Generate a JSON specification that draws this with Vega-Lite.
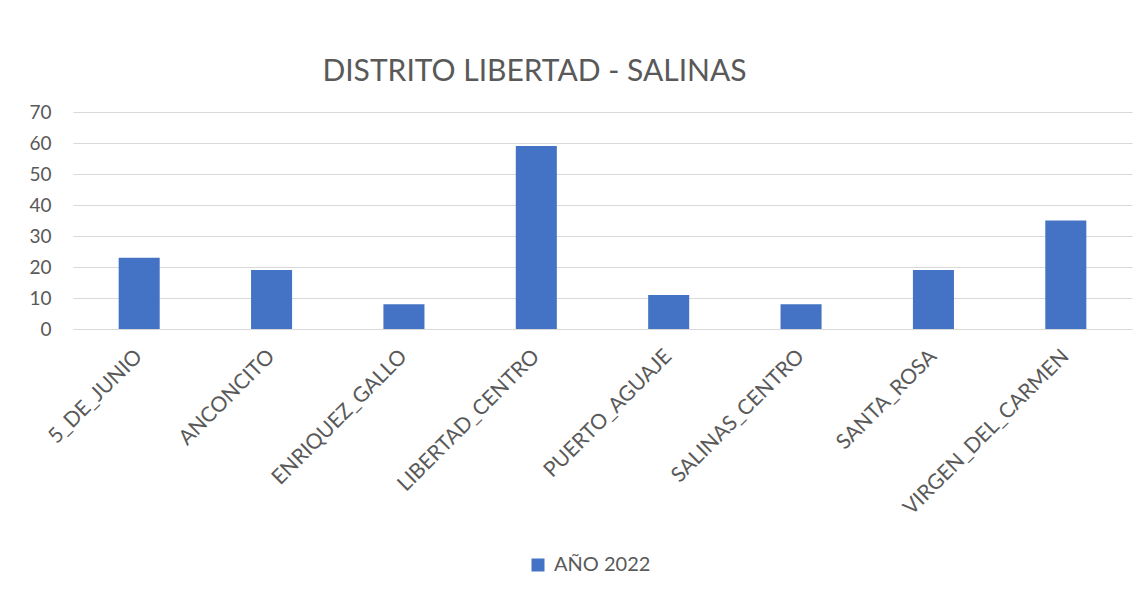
{
  "$schema": "https://vega.github.io/schema/vega-lite/v6.json",
  "width": 1059,
  "height": 217,
  "autosize": {"type": "none"},
  "padding": {"left": 73, "top": 112, "right": 14, "bottom": 266},
  "background": "white",
  "title": {
    "text": "DISTRITO LIBERTAD - SALINAS",
    "anchor": "middle",
    "dx": -68,
    "offset": 16,
    "font": "Lato",
    "fontSize": 30,
    "fontWeight": "normal",
    "color": "#595959"
  },
  "data": {
    "values": [
      {"zona": "5_DE_JUNIO", "valor": 23, "serie": "AÑO 2022"},
      {"zona": "ANCONCITO", "valor": 19, "serie": "AÑO 2022"},
      {"zona": "ENRIQUEZ_GALLO", "valor": 8, "serie": "AÑO 2022"},
      {"zona": "LIBERTAD_CENTRO", "valor": 59, "serie": "AÑO 2022"},
      {"zona": "PUERTO_AGUAJE", "valor": 11, "serie": "AÑO 2022"},
      {"zona": "SALINAS_CENTRO", "valor": 8, "serie": "AÑO 2022"},
      {"zona": "SANTA_ROSA", "valor": 19, "serie": "AÑO 2022"},
      {"zona": "VIRGEN_DEL_CARMEN", "valor": 35, "serie": "AÑO 2022"}
    ]
  },
  "mark": {"type": "bar"},
  "encoding": {
    "x": {
      "field": "zona",
      "type": "nominal",
      "sort": null,
      "title": null,
      "scale": {"paddingInner": 0.69, "paddingOuter": 0.345},
      "axis": {
        "labelAngle": -45,
        "labelAlign": "right",
        "labelBaseline": "middle",
        "labelFont": "Lato",
        "labelFontSize": 21,
        "labelColor": "#595959",
        "labelPadding": 24,
        "labelLimit": 400,
        "ticks": false,
        "domain": true,
        "domainColor": "#D9D9D9",
        "domainWidth": 1,
        "grid": false
      }
    },
    "y": {
      "field": "valor",
      "type": "quantitative",
      "title": null,
      "scale": {"domain": [0, 70]},
      "axis": {
        "values": [0, 10, 20, 30, 40, 50, 60, 70],
        "labelFont": "Lato",
        "labelFontSize": 19,
        "labelColor": "#595959",
        "labelPadding": 22,
        "ticks": false,
        "domain": false,
        "grid": true,
        "gridColor": "#D9D9D9",
        "gridWidth": 1
      }
    },
    "color": {
      "field": "serie",
      "type": "nominal",
      "scale": {"range": ["#4472C4"]},
      "legend": {
        "title": null,
        "orient": "none",
        "legendX": 455,
        "legendY": 443,
        "symbolType": "square",
        "symbolSize": 169,
        "symbolStrokeWidth": 0,
        "labelFont": "Lato",
        "labelFontSize": 20,
        "labelColor": "#595959",
        "labelOffset": 6
      }
    }
  },
  "config": {
    "view": {"stroke": null}
  }
}
